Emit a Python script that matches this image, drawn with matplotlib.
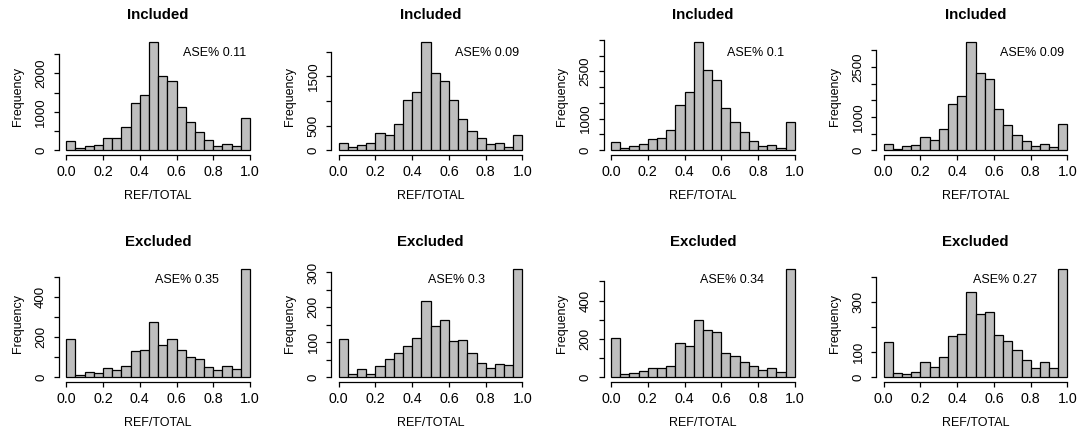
import numpy as np
import matplotlib.pyplot as plt

# bin edges of REF/TOTAL (20 bins of width 0.05)
breaks = np.linspace(0, 1, 21)

# counts per bin, included sites
incl_1 = [234, 60, 112, 130, 320, 320, 597, 1220, 1430, 2805,
          1922, 1800, 1134, 727, 468, 260, 104, 156, 104, 831]
incl_2 = [142, 68, 115, 155, 345, 318, 527, 1027, 1189, 2189,
          1574, 1405, 1020, 635, 385, 243, 122, 149, 68, 304]
incl_3 = [274, 74, 147, 190, 358, 390, 632, 1421, 1842, 3421,
          2537, 2210, 1326, 884, 568, 295, 126, 168, 63, 905]
incl_4 = [180, 50, 120, 170, 390, 320, 630, 1380, 1630, 3240,
          2330, 2150, 1250, 750, 470, 270, 120, 190, 110, 790]

# counts per bin, excluded sites
excl_1 = [190, 13, 25, 20, 45, 35, 55, 133, 138, 278,
          163, 193, 137, 102, 92, 50, 37, 55, 40, 540]
excl_2 = [110, 8, 23, 9, 32, 52, 69, 89, 113, 217,
          146, 163, 103, 107, 69, 40, 25, 38, 36, 309]
excl_3 = [205, 16, 21, 31, 47, 47, 57, 177, 165, 297,
          245, 237, 125, 113, 78, 57, 37, 47, 28, 563]
excl_4 = [141, 17, 11, 19, 60, 41, 79, 163, 172, 340,
          255, 260, 169, 145, 108, 69, 36, 59, 36, 432]

ase_incl = [0.11, 0.09, 0.1, 0.09]
ase_excl = [0.35, 0.3, 0.34, 0.27]

# y axis: tick step, last tick, labelled ticks
ystep_incl = [500, 500, 500, 500]
ytop_incl = [2500, 2000, 3500, 3000]
ylab_incl = [[0, 1000, 2000], [0, 500, 1500], [0, 1000, 2500], [0, 1000, 2500]]
ystep_excl = [100, 50, 100, 100]
ytop_excl = [500, 300, 500, 400]
ylab_excl = [[0, 200, 400], [0, 100, 200, 300], [0, 200, 400], [0, 100, 300]]

plt.rcParams["font.family"] = ["Liberation Sans", "DejaVu Sans"]
plt.rcParams["font.size"] = 9

W, H = 1078, 433
fig = plt.figure(figsize=(W / 100, H / 100), dpi=100)

lefts = [58.95, 331.4, 603.7, 876.4]
axw = 198.4
tops = [38, 265]
axh = 116.5


def draw_hist(ax, counts, title, ase, ystep, ytop, ylabs, ase_x):
    mids = (breaks[:-1] + breaks[1:]) / 2
    ax.hist(mids, bins=breaks, weights=counts, color="#BEBEBE",
            edgecolor="black", linewidth=0.9)
    top = max(counts)
    ax.set_xlim(-0.04, 1.04)
    ax.set_ylim(-0.04 * top, 1.04 * top)
    for side in ("top", "right"):
        ax.spines[side].set_visible(False)
    ax.spines["left"].set_bounds(0, ytop)
    ax.spines["bottom"].set_bounds(0, 1)
    ax.spines["left"].set_linewidth(0.9)
    ax.spines["bottom"].set_linewidth(0.9)

    ax.set_xticks(np.arange(0, 1.01, 0.2))
    ax.set_xticklabels([f"{v:.1f}" for v in np.arange(0, 1.01, 0.2)])
    yt = np.arange(0, ytop + 1, ystep)
    ax.set_yticks(yt)
    ax.set_yticklabels([str(v) if v in ylabs else "" for v in yt])
    ax.tick_params(axis="both", direction="out", length=3.6, width=0.9)
    ax.tick_params(axis="x", pad=3.8, labelsize=10.3)
    ax.tick_params(axis="y", pad=5.0, labelsize=9.5)
    plt.setp(ax.get_yticklabels(), rotation=90, va="center", ha="right")

    ax.set_title(title, fontweight="bold", pad=14)
    ax.set_xlabel("REF/TOTAL")
    ax.set_ylabel("Frequency")
    ax.xaxis.set_label_coords(0.5, -0.306)
    ax.yaxis.set_label_coords(-0.178, 0.5)

    ax.text(ase_x, 0.87 * top, f"ASE% {ase}", ha="left", va="baseline")


incl = [incl_1, incl_2, incl_3, incl_4]
excl = [excl_1, excl_2, excl_3, excl_4]

for i in range(4):
    ax = fig.add_axes([lefts[i] / W, 1 - (tops[0] + axh) / H, axw / W, axh / H])
    draw_hist(ax, incl[i], "Included", ase_incl[i], ystep_incl[i],
              ytop_incl[i], ylab_incl[i], 0.633)
    ax = fig.add_axes([lefts[i] / W, 1 - (tops[1] + axh) / H, axw / W, axh / H])
    draw_hist(ax, excl[i], "Excluded", ase_excl[i], ystep_excl[i],
              ytop_excl[i], ylab_excl[i], 0.485)

fig.savefig("out.png", dpi=100)
